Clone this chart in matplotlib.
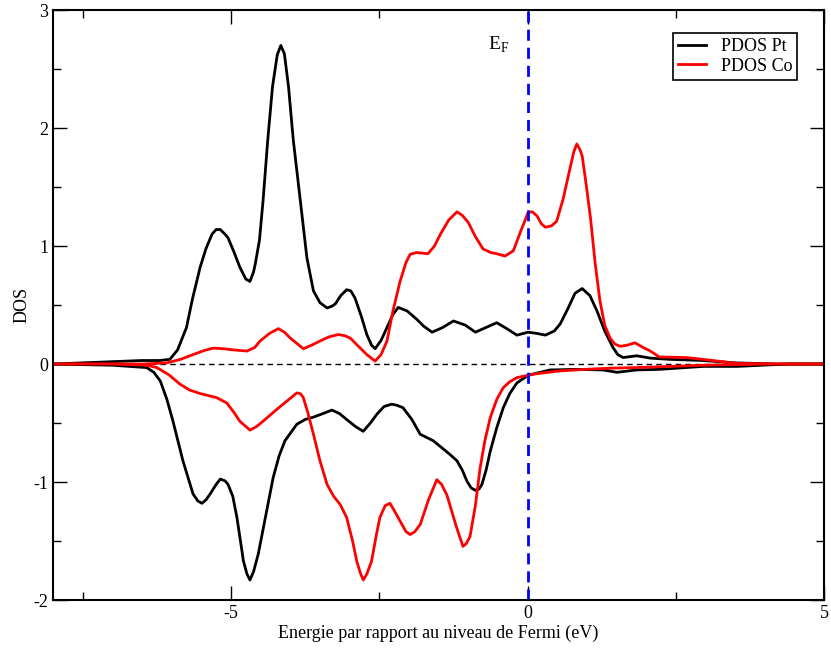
import matplotlib.pyplot as plt
from matplotlib.ticker import MultipleLocator

plt.rcParams['font.family'] = ['Liberation Serif', 'DejaVu Serif']
plt.rcParams['mathtext.fontset'] = 'custom'
plt.rcParams['mathtext.rm'] = 'Liberation Serif'
plt.rcParams['axes.unicode_minus'] = False

# PDOS spin up (positive) for Pt
e_pt_up = [-8.0, -7.0, -6.5, -6.2, -6.03, -5.9, -5.75, -5.65, -5.52, -5.42, -5.32, -5.25,
           -5.18, -5.1, -5.05, -4.95, -4.85, -4.75, -4.68, -4.62, -4.59, -4.52, -4.46,
           -4.38, -4.3, -4.22, -4.16, -4.1, -4.03, -3.95, -3.83, -3.72, -3.61, -3.5,
           -3.38, -3.3, -3.24, -3.15, -3.05, -2.98, -2.91, -2.8, -2.71, -2.63, -2.57,
           -2.47, -2.37, -2.27, -2.18, -2.03, -1.87, -1.75, -1.61, -1.43, -1.25, -1.05,
           -0.88, -0.7, -0.52, -0.35, -0.18, 0.01, 0.15, 0.30, 0.45, 0.55, 0.68, 0.8,
           0.92, 1.05, 1.17, 1.3, 1.44, 1.52, 1.61, 1.84, 2.07, 2.39, 2.96, 3.5, 4.2, 5.0]
dos_pt_up = [0.0, 0.02, 0.03, 0.03, 0.04, 0.12, 0.31, 0.55, 0.82, 0.98, 1.10, 1.14,
             1.14, 1.10, 1.07, 0.95, 0.82, 0.72, 0.70, 0.78, 0.85, 1.05, 1.38,
             1.9, 2.35, 2.62, 2.70, 2.63, 2.35, 1.9, 1.38, 0.9, 0.62, 0.52,
             0.475, 0.49, 0.51, 0.58, 0.63, 0.62, 0.56, 0.40, 0.25, 0.16, 0.13,
             0.2, 0.31, 0.42, 0.48, 0.45, 0.38, 0.32, 0.27, 0.31, 0.365, 0.33,
             0.27, 0.31, 0.35, 0.30, 0.245, 0.27, 0.26, 0.245, 0.28, 0.34, 0.47, 0.6,
             0.64, 0.58, 0.45, 0.28, 0.14, 0.08, 0.055, 0.07, 0.05, 0.04, 0.03, 0.01, 0.0, 0.0]

# PDOS spin up for Co
e_co_up = [-8.0, -7.0, -6.5, -6.08, -5.85, -5.64, -5.45, -5.30, -5.13, -4.96, -4.73,
           -4.6, -4.51, -4.35, -4.20, -4.1, -4.0, -3.78, -3.64, -3.50, -3.35, -3.19,
           -3.08, -2.99, -2.85, -2.71, -2.57, -2.47, -2.37, -2.27, -2.15, -2.05, -1.98,
           -1.87, -1.68, -1.57, -1.47, -1.33, -1.19, -1.1, -1.0, -0.88, -0.75, -0.62,
           -0.52, -0.38, -0.24, -0.12, 0.01, 0.08, 0.16, 0.23, 0.30, 0.4, 0.49, 0.6,
           0.72, 0.78, 0.83, 0.88, 0.92, 0.98, 1.06, 1.14, 1.22, 1.3, 1.39, 1.47, 1.56,
           1.68, 1.81, 1.95, 2.07, 2.22, 2.67, 2.96, 3.53, 4.2, 5.0]
dos_co_up = [0.0, 0.0, 0.0, 0.01, 0.04, 0.08, 0.115, 0.135, 0.13, 0.12, 0.11,
             0.14, 0.195, 0.26, 0.30, 0.27, 0.22, 0.13, 0.16, 0.195, 0.23, 0.25,
             0.24, 0.22, 0.15, 0.08, 0.025, 0.08, 0.195, 0.45, 0.70, 0.86, 0.93,
             0.945, 0.935, 1.0, 1.10, 1.22, 1.29, 1.26, 1.20, 1.08, 0.975, 0.945,
             0.935, 0.915, 0.96, 1.12, 1.285, 1.29, 1.255, 1.19, 1.16, 1.17, 1.21, 1.4,
             1.67, 1.8, 1.865, 1.82, 1.765, 1.55, 1.24, 0.85, 0.535, 0.33, 0.22, 0.17, 0.15,
             0.16, 0.18, 0.14, 0.11, 0.06, 0.055, 0.04, 0.005, 0.0, 0.0]

# PDOS spin down (negative) for Pt
e_pt_dn = [-8.0, -7.0, -6.42, -6.3, -6.19, -6.08, -5.98, -5.81, -5.64, -5.56, -5.49,
           -5.42, -5.35, -5.25, -5.18, -5.1, -5.05, -4.97, -4.90, -4.84, -4.79, -4.73,
           -4.68, -4.62, -4.54, -4.42, -4.29, -4.19, -4.09, -3.89, -3.75, -3.61, -3.45,
           -3.30, -3.17, -3.05, -2.9, -2.77, -2.65, -2.54, -2.42, -2.29, -2.2, -2.10,
           -1.95, -1.81, -1.59, -1.42, -1.3, -1.19, -1.1, -1.02, -0.95, -0.88, -0.82,
           -0.77, -0.7, -0.63, -0.52, -0.41, -0.3, -0.18, 0.01, 0.38, 0.83, 1.27, 1.51,
           1.84, 2.22, 2.96, 3.53, 4.38, 5.0]
dos_pt_dn = [0.0, -0.01, -0.03, -0.07, -0.145, -0.3, -0.48, -0.82, -1.10, -1.16, -1.18,
             -1.15, -1.10, -1.02, -0.975, -0.99, -1.02, -1.12, -1.30, -1.5, -1.67, -1.78,
             -1.83, -1.76, -1.61, -1.3, -0.965, -0.78, -0.65, -0.51, -0.47, -0.45, -0.42,
             -0.39, -0.42, -0.47, -0.53, -0.57, -0.5, -0.425, -0.36, -0.34, -0.35, -0.37,
             -0.47, -0.595, -0.65, -0.72, -0.77, -0.82, -0.9, -0.995, -1.05, -1.07, -1.06,
             -1.02, -0.9, -0.74, -0.54, -0.37, -0.25, -0.16, -0.095, -0.05, -0.045, -0.05, -0.07,
             -0.05, -0.045, -0.02, -0.02, 0.0, 0.0]

# PDOS spin down for Co
e_co_dn = [-8.0, -7.0, -6.42, -6.25, -6.05, -5.86, -5.7, -5.52, -5.24, -5.07, -4.95,
           -4.85, -4.68, -4.57, -4.46, -4.23, -4.06, -3.89, -3.83, -3.78, -3.7, -3.61,
           -3.5, -3.38, -3.27, -3.16, -3.05, -2.95, -2.88, -2.82, -2.77, -2.71, -2.63,
           -2.55, -2.49, -2.4, -2.32, -2.25, -2.15, -2.05, -1.98, -1.9, -1.81, -1.67,
           -1.53, -1.45, -1.36, -1.2, -1.09, -1.03, -0.97, -0.88, -0.80, -0.72, -0.63,
           -0.52, -0.41, -0.3, -0.18, 0.01, 0.11, 0.5, 0.96, 1.4, 1.81, 2.4, 2.96, 4.0,
           5.0]
dos_co_dn = [0.0, 0.0, -0.01, -0.03, -0.09, -0.17, -0.22, -0.25, -0.285, -0.33, -0.41,
             -0.485, -0.56, -0.53, -0.485, -0.385, -0.315, -0.245, -0.25, -0.285, -0.42, -0.595,
             -0.82, -1.02, -1.12, -1.19, -1.30, -1.5, -1.67, -1.77, -1.83, -1.78, -1.67,
             -1.45, -1.30, -1.2, -1.18, -1.24, -1.33, -1.42, -1.445, -1.42, -1.36, -1.15,
             -0.98, -1.02, -1.11, -1.38, -1.545, -1.52, -1.46, -1.2, -0.88, -0.65, -0.455,
             -0.3, -0.20, -0.15, -0.115, -0.095, -0.085, -0.06, -0.045, -0.035, -0.03, -0.02, -0.01, 0.0,
             0.0]

fig = plt.figure(figsize=(8.31, 6.48), dpi=100)
ax = fig.add_axes([0.0638, 0.074, 0.928, 0.9105])

ax.plot(e_pt_up, dos_pt_up, color='black', lw=2, label='PDOS Pt')
ax.plot(e_co_up, dos_co_up, color='red', lw=2, label='PDOS Co')
ax.plot(e_pt_dn, dos_pt_dn, color='black', lw=2)
ax.plot(e_co_dn, dos_co_dn, color='red', lw=2)

ax.axhline(0, color='black', lw=1, ls=(0, (4, 3)), zorder=0)
ax.axvline(0, color='#0000ff', lw=2, ls=(0, (4, 2.5)))
ax.text(-0.67, 2.66, r'E$_\mathregular{F}$', fontsize=14)

ax.set_xlim(-8, 5)
ax.set_ylim(-2, 3)
ax.xaxis.set_major_locator(MultipleLocator(5))
ax.xaxis.set_minor_locator(MultipleLocator(2.5))
ax.yaxis.set_major_locator(MultipleLocator(1))
ax.yaxis.set_minor_locator(MultipleLocator(0.5))
ax.tick_params(which='both', direction='in', top=True, right=True, labelsize=13, width=1)
ax.tick_params(which='major', length=10)
ax.tick_params(which='minor', length=6)
for s in ax.spines.values():
    s.set_linewidth(1.5)

ax.set_xlabel('Energie par rapport au niveau de Fermi (eV)', fontsize=13, labelpad=2)
ax.set_ylabel('DOS', fontsize=13, labelpad=2)

leg = ax.legend(loc='upper right', bbox_to_anchor=(0.977, 0.977), fontsize=13,
                fancybox=False, framealpha=1, edgecolor='black', handlelength=1.55,
                borderpad=0.3, labelspacing=0.15)
leg.get_frame().set_linewidth(1.2)

fig.savefig('out.png', dpi=100)
